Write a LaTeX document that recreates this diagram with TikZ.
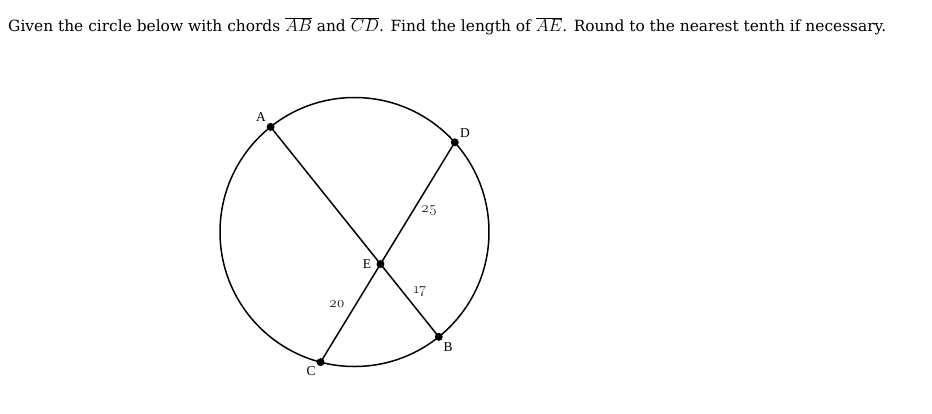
\documentclass[tikz,border=0pt]{standalone}
\usepackage{fontspec}
\newfontfamily\titlefont{DejaVu Serif}
\newfontfamily\lblfont{Liberation Serif}
\newfontfamily\numfont[Numbers=OldStyle]{Latin Modern Roman}
\newcommand{\segm}[1]{\scalebox{1.12}{$\overline{#1}$}}
\usetikzlibrary{calc,intersections}
\begin{document}
\begin{tikzpicture}[x=1pt,y=-1pt,
  chord/.style={line width=1.5pt},
  pt/.style={circle,fill=black,inner sep=0pt,minimum size=8pt},
  lbl/.style={font=\lblfont\fontsize{13.5}{15}\selectfont,inner sep=1pt},
  num/.style={font=\numfont\fontsize{15}{16}\selectfont,inner sep=1pt}]
\useasboundingbox[fill=white] (0,0) rectangle (932,413);
\node[anchor=base west,inner sep=0pt] (title) at (8,31.5) {\resizebox{878pt}{!}{\titlefont\fontsize{17}{20}\selectfont Given the circle below with chords \segm{AB} and \segm{CD}. Find the length of \segm{AE}. Round to the nearest tenth if necessary.}};
\coordinate (O) at (354.5,232);
\draw[line width=1.5pt] (O) circle[radius=134.5];
\coordinate (A) at ($(O)+(128.6:134.5 and -134.5)$);
\coordinate (D) at ($(O)+(41.8:134.5 and -134.5)$);
\coordinate (C) at ($(O)+(-104.6:134.5 and -134.5)$);
\coordinate (B) at ($(O)+(-51.2:134.5 and -134.5)$);
\draw[chord,name path=ab] (A) -- (B);
\draw[chord,name path=cd] (C) -- (D);
\path[name intersections={of=ab and cd,by=E}];
\node[pt] (nA) at (A) {};
\node[pt] (nB) at (B) {};
\node[pt] (nC) at (C) {};
\node[pt] (nD) at (D) {};
\node[pt] (nE) at (E) {};
\node[lbl] (lA) at (261,117) {A};
\node[lbl] (lD) at (465,133) {D};
\node[lbl] (lE) at (367,264) {E};
\node[lbl] (lB) at (448,347) {B};
\node[lbl] (lC) at (311,371) {C};
\node[num] (n25) at (429,211) {25};
\node[num] (n17) at (420,292) {17};
\node[num] (n20) at (337,304) {20};
\end{tikzpicture}
\end{document}
